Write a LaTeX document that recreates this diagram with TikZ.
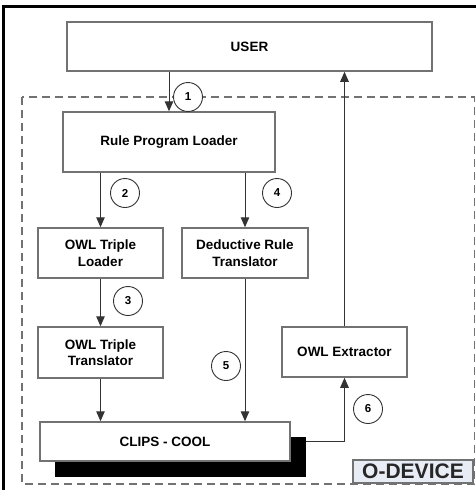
\documentclass[tikz,border=0pt]{standalone}
\usepackage{fontspec}
\setmainfont{Liberation Sans}
\usetikzlibrary{arrows.meta,calc}
\definecolor{boxgray}{HTML}{727272}
\definecolor{linegray}{HTML}{333333}
\definecolor{odevfill}{HTML}{E8ECF4}

\begin{document}
\begin{tikzpicture}[
      x=1pt, y=-1pt,
      font=\bfseries\fontsize{13.5}{16.5}\selectfont,
      >={Triangle[length=10pt,width=8.5pt]},
      box/.style={draw=boxgray, line width=1.5pt, fill=white, align=center, inner sep=0pt},
      flow/.style={->, draw=linegray, line width=1pt},
      num/.style={draw=linegray, circle, line width=0.9pt, fill=white, minimum size=29pt, inner sep=0pt, font=\bfseries\fontsize{11.5}{11.5}\selectfont}
  ]
    \useasboundingbox (0,0) rectangle (476,490);
    % outer frame and device border
    \draw[black, line width=3pt] (3.5,490) -- (3.5,6.5) -- (476,6.5);
    \draw[boxgray, line width=1.4pt, dash pattern=on 8pt off 5pt] (22,97) rectangle (474.5,484);

    \node[box, minimum width=365pt, minimum height=49pt] (user) at (249.5,46.5) {USER};
    \node[box, minimum width=212pt, minimum height=60pt] (rpl) at (169,142) {Rule Program Loader};
    \node[box, minimum width=125pt, minimum height=50pt] (otl) at (100.5,253) {OWL Triple\\Loader};
    \node[box, minimum width=126pt, minimum height=50pt] (drt) at (245,253) {Deductive Rule\\Translator};
    \node[box, minimum width=125pt, minimum height=51pt] (ott) at (100.5,352.5) {OWL Triple\\Translator};
    \node[box, minimum width=125pt, minimum height=50pt] (owlx) at (344.5,352) {OWL Extractor};
    \node[fill=black, minimum width=251pt, minimum height=40pt, inner sep=0pt] (shadow) at (180.5,457) {};
    \node[box, minimum width=250pt, minimum height=39pt] (clips) at (165,441.5) {CLIPS - COOL};
    \node[draw=boxgray, line width=1.2pt, fill=odevfill, minimum width=120pt, minimum height=23pt, inner sep=0pt,
          font=\bfseries\fontsize{21}{21}\selectfont, text=black!85] (odev) at (413,471.5) {O-DEVICE};

    \draw[flow] (user.south -| rpl.north) -- (rpl.north);
    \draw[flow] (owlx.north) -- (owlx.north |- user.south);
    \draw[flow] (otl.north |- rpl.south) -- (otl.north);
    \draw[flow] (drt.north |- rpl.south) -- (drt.north);
    \draw[flow] (otl.south) -- (ott.north);
    \draw[flow] (ott.south) -- (ott.south |- clips.north);
    \draw[flow] (drt.south) -- (drt.south |- clips.north);
    \draw[flow] ([yshift=-5pt]shadow.north east) -| (owlx.south);

    \node[num] (n1) at (188,97) {1};
    \node[num] (n2) at (125,193) {2};
    \node[num] (n3) at (128,301) {3};
    \node[num] (n4) at (277,193) {4};
    \node[num] (n5) at (226,366) {5};
    \node[num] (n6) at (368,409) {6};
\end{tikzpicture}
\end{document}
